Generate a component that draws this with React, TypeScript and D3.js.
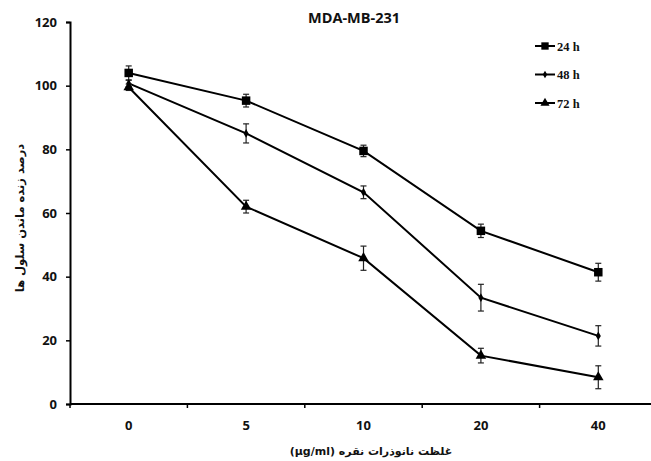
import { useEffect, useRef } from "react";
import * as d3 from "d3";

const doses = ["0", "5", "10", "20", "40"];
const seriesNames = ["24 h", "48 h", "72 h"];
const values24 = [104.0, 95.3, 79.5, 54.4, 41.4];
const errors24 = [2.2, 2.0, 1.8, 2.1, 2.8];
const values48 = [100.7, 85.0, 66.5, 33.4, 21.4];
const errors48 = [1.0, 3.0, 2.0, 4.2, 3.2];
const values72 = [99.5, 62.0, 45.8, 15.2, 8.4];
const errors72 = [1.0, 2.0, 3.8, 2.3, 3.6];
const yTicks = [0, 20, 40, 60, 80, 100, 120];

const width = 651;
const height = 461;

export default function App() {
  const ref = useRef<SVGSVGElement>(null);

  useEffect(() => {
    if (!ref.current) return;
    const svg = d3.select(ref.current);
    svg.selectAll("*").remove();

    const left = 70;
    const right = 657;
    const top = 22;
    const bottom = 404;

    const x = d3.scaleBand<string>().domain(doses).range([left, right]);
    const y = d3.scaleLinear().domain([0, 120]).range([bottom, top]);
    const cx = (d: string) => x(d)! + x.bandwidth() / 2;

    const sans = "'Open Sans', 'DejaVu Sans', sans-serif";
    const serif = "'Liberation Serif', 'DejaVu Serif', serif";

    // y axis
    const yAxis = svg
      .append("g")
      .attr("transform", `translate(${left},0)`)
      .call(d3.axisLeft(y).tickValues(yTicks).tickSize(4).tickPadding(9));
    yAxis.select(".domain").attr("stroke", "#000").attr("stroke-width", 2);
    yAxis.selectAll(".tick line").attr("stroke", "#000").attr("stroke-width", 1.5);
    yAxis
      .selectAll(".tick text")
      .attr("font-family", sans)
      .attr("font-weight", "bold")
      .attr("font-size", 13)
      .attr("fill", "#111");

    // x axis: ticks between categories
    svg
      .append("line")
      .attr("x1", left)
      .attr("x2", right)
      .attr("y1", bottom)
      .attr("y2", bottom)
      .attr("stroke", "#000")
      .attr("stroke-width", 2);
    doses.forEach((d) => {
      svg
        .append("line")
        .attr("x1", x(d)!)
        .attr("x2", x(d)!)
        .attr("y1", bottom)
        .attr("y2", bottom + 4)
        .attr("stroke", "#000")
        .attr("stroke-width", 1.5);
      svg
        .append("text")
        .attr("x", cx(d))
        .attr("y", bottom + 26)
        .attr("text-anchor", "middle")
        .attr("font-family", sans)
        .attr("font-weight", "bold")
        .attr("font-size", 13)
        .attr("fill", "#111")
        .text(d);
    });

    const series = [
      { name: seriesNames[0], values: values24, errors: errors24, marker: "square" },
      { name: seriesNames[1], values: values48, errors: errors48, marker: "diamond" },
      { name: seriesNames[2], values: values72, errors: errors72, marker: "triangle" },
    ];

    const markerPath = (m: string, size: number) => {
      const sym =
        m === "square" ? d3.symbolSquare : m === "diamond" ? d3.symbolDiamond : d3.symbolTriangle;
      return d3.symbol().type(sym).size(size)()!;
    };
    const markerSize = (m: string) => (m === "square" ? 72 : m === "diamond" ? 22 : 48);

    const line = d3
      .line<number>()
      .x((_, i) => cx(doses[i]))
      .y((v) => y(v));

    series.forEach((s) => {
      // error bars
      s.values.forEach((v, i) => {
        const px = cx(doses[i]);
        const y1 = y(v + s.errors[i]);
        const y2 = y(v - s.errors[i]);
        const g = svg.append("g").attr("stroke", "#222").attr("stroke-width", 1.2);
        g.append("line").attr("x1", px).attr("x2", px).attr("y1", y1).attr("y2", y2);
        g.append("line").attr("x1", px - 3).attr("x2", px + 3).attr("y1", y1).attr("y2", y1);
        g.append("line").attr("x1", px - 3).attr("x2", px + 3).attr("y1", y2).attr("y2", y2);
      });

      svg
        .append("path")
        .attr("d", line(s.values)!)
        .attr("fill", "none")
        .attr("stroke", "#000")
        .attr("stroke-width", 2);

      s.values.forEach((v, i) => {
        svg
          .append("path")
          .attr("d", markerPath(s.marker, markerSize(s.marker)))
          .attr("transform", `translate(${cx(doses[i])},${y(v)})`)
          .attr("fill", "#000");
      });
    });

    // legend
    series.forEach((s, i) => {
      const ly = 46 + i * 28.5;
      svg
        .append("line")
        .attr("x1", 535)
        .attr("x2", 555)
        .attr("y1", ly)
        .attr("y2", ly)
        .attr("stroke", "#000")
        .attr("stroke-width", 2);
      svg
        .append("path")
        .attr("d", markerPath(s.marker, markerSize(s.marker) * 0.75))
        .attr("transform", `translate(545,${ly})`)
        .attr("fill", "#000");
      svg
        .append("text")
        .attr("x", 557)
        .attr("y", ly + 4.5)
        .attr("font-family", serif)
        .attr("font-weight", "bold")
        .attr("font-size", 12.5)
        .attr("fill", "#111")
        .text(s.name);
    });

    // title
    svg
      .append("text")
      .attr("x", 354)
      .attr("y", 22.5)
      .attr("text-anchor", "middle")
      .attr("font-family", sans)
      .attr("font-weight", "bold")
      .attr("font-size", 14.5)
      .attr("fill", "#111")
      .text("MDA-MB-231");

    // axis titles
    svg
      .append("text")
      .attr("transform", `translate(24,218) rotate(-90)`)
      .attr("text-anchor", "middle")
      .attr("font-family", "'DejaVu Sans', sans-serif")
      .attr("font-weight", "bold")
      .attr("font-size", 11.5)
      .attr("fill", "#111")
      .text("درصد زنده ماندن سلول ها");

    svg
      .append("text")
      .attr("x", 371)
      .attr("y", 455)
      .attr("text-anchor", "middle")
      .attr("direction", "rtl")
      .attr("font-family", "'DejaVu Sans', sans-serif")
      .attr("font-weight", "bold")
      .attr("font-size", 11)
      .attr("fill", "#111")
      .text("غلظت نانوذرات نقره (µg/ml)");
  }, []);

  return (
    <svg
      ref={ref}
      width={width}
      height={height}
      style={{ position: "absolute", left: 0, top: 0, background: "#fff" }}
    />
  );
}
